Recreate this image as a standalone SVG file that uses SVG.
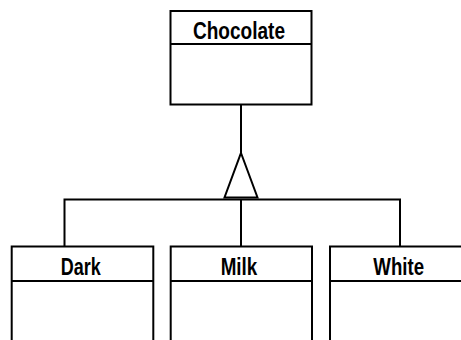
<svg xmlns="http://www.w3.org/2000/svg" width="461" height="340" viewBox="0 0 461 340">
  <style>
    .box { fill: #ffffff; stroke: #000000; stroke-width: 2; }
    .line { fill: none; stroke: #000000; stroke-width: 2; }
    .head { fill: #ffffff; stroke: #000000; stroke-width: 2; stroke-linejoin: miter; }
    .name { font-family: "Liberation Sans", Arial, sans-serif; font-weight: bold; font-size: 24px; fill: #000000; text-anchor: middle; }
  </style>
  <rect width="461" height="340" fill="#ffffff"/>

  <!-- generalization connectors -->
  <g id="connectors">
    <line class="line" x1="241" y1="104.5" x2="241" y2="153"/>
    <polyline class="line" points="64.5,246.5 64.5,199.5 400,199.5 400,246.5"/>
    <line class="line" x1="241" y1="199.5" x2="241" y2="246.5"/>
    <polygon class="head" points="241,153 257.5,197.5 224.5,197.5"/>
  </g>

  <g id="chocolate">
    <rect class="box" x="170.5" y="11" width="141" height="93.5"/>
    <line class="line" x1="170.5" y1="44" x2="311.5" y2="44"/>
    <text class="name" x="239" y="38.5" textLength="92" lengthAdjust="spacingAndGlyphs">Chocolate</text>
  </g>

  <g id="dark">
    <rect class="box" x="11.7" y="246.5" width="141.6" height="110"/>
    <line class="line" x1="11.7" y1="281" x2="153.3" y2="281"/>
    <text class="name" x="80.7" y="274.5" textLength="40" lengthAdjust="spacingAndGlyphs">Dark</text>
  </g>

  <g id="milk">
    <rect class="box" x="170.7" y="246.5" width="141.3" height="110"/>
    <line class="line" x1="170.7" y1="281" x2="312" y2="281"/>
    <text class="name" x="239" y="274.5" textLength="36.6" lengthAdjust="spacingAndGlyphs">Milk</text>
  </g>

  <g id="white">
    <rect class="box" x="330" y="246.5" width="141" height="110"/>
    <line class="line" x1="330" y1="281" x2="471" y2="281"/>
    <text class="name" x="398.7" y="274.5" textLength="50.7" lengthAdjust="spacingAndGlyphs">White</text>
  </g>
</svg>
